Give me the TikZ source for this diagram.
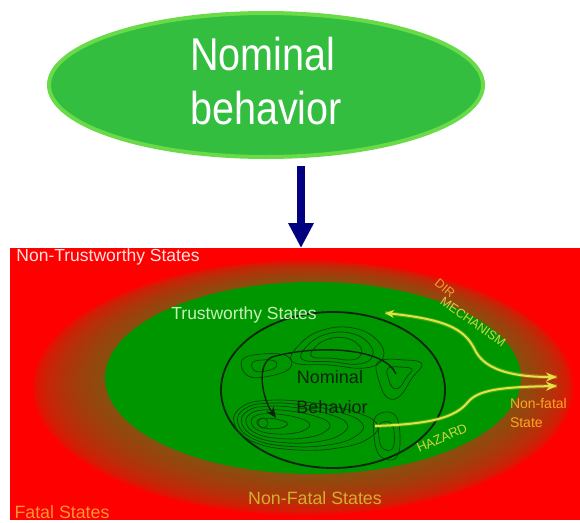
\documentclass[tikz,border=0pt]{standalone}
\usepackage{fontspec}
\setmainfont{Liberation Sans}
\usetikzlibrary{arrows.meta,shapes.geometric}

\definecolor{topgreen}{RGB}{52,190,64}
\definecolor{topedge}{RGB}{105,218,72}
\definecolor{navyarrow}{RGB}{0,0,128}
\definecolor{bgred}{RGB}{255,0,0}
\definecolor{rust}{RGB}{138,78,14}
\definecolor{trustgreen}{RGB}{0,150,0}
\definecolor{contourline}{RGB}{12,66,12}
\definecolor{pathyellow}{RGB}{226,226,70}
\definecolor{ntcolor}{RGB}{255,226,226}
\definecolor{tscolor}{RGB}{200,240,185}
\definecolor{nfscolor}{RGB}{205,178,48}
\definecolor{fatalcolor}{RGB}{255,150,50}
\definecolor{nfcolor}{RGB}{255,165,40}
\definecolor{dircolor}{RGB}{232,165,50}
\definecolor{mechcolor}{RGB}{208,212,72}
\definecolor{nomcolor}{RGB}{12,36,12}

\newcommand\setfs[1]{\fontsize{#1}{#1}\selectfont}

\tikzset{
  lbl/.style={inner sep=0pt, outer sep=0pt},
  contour/.style={draw=contourline, line width=0.7pt},
  yellowpath/.style={draw=pathyellow, line width=2pt},
  yellowtip/.style={-{Stealth[length=11pt,width=9pt]}},
  yellowglow/.style={draw=pathyellow, line width=4pt, opacity=0.25},
}

\begin{document}
\begin{tikzpicture}[x=1pt,y=-1pt]
\useasboundingbox (0,0) rectangle (580,522);
\fill[white] (0,0) rectangle (580,522);

% top bubble
\node[ellipse, draw=topedge, line width=4pt, fill=topgreen,
      minimum width=434pt, minimum height=144pt, inner sep=0pt] (nominal) at (266,85) {};
\node[lbl, text=white, align=left] (nomtext) at (266,88)
  {\scalebox{0.86}[1]{\setfs{46}\begin{tabular}{@{}l@{}}Nominal\\[7pt]behavior\end{tabular}}};

% arrow down into the state space
\coordinate (arrtop) at (301,166);
\coordinate (arrbot) at (301,248);
\draw[navyarrow, line width=8pt, -{Triangle[length=25pt,width=24pt]}] (arrtop) -- (arrbot);

% state space: red field
\fill[bgred] (10,248) rectangle (580,520);

% non-fatal band: stacked ellipses going from red (outside) to rust (inside)
\foreach \i [evaluate=\i as \pct using {100*(\i/32)^0.5},
             evaluate=\i as \cx using {303+10*\i/32},
             evaluate=\i as \cy using {388-9*\i/32},
             evaluate=\i as \rx using {272-62*\i/32},
             evaluate=\i as \ry using {128-30*\i/32}] in {0,...,32}{
  \fill[rust!\pct!bgred] (\cx,\cy) ellipse [x radius=\rx pt, y radius=\ry pt];
}

% trustworthy region and nominal region
\fill[trustgreen] (313,378) ellipse [x radius=208pt, y radius=96pt];
\draw[nomcolor, line width=1.8pt] (333,390) ellipse [x radius=112pt, y radius=78pt];

% contour lines of the nominal behaviour
\foreach \s in {0.22,0.42,0.6,0.76,0.9,1.03}{
  \draw[contour, shift={(263,423)}, scale=\s] plot[smooth cycle, tension=0.75]
    coordinates {(-28,0) (-20,-16) (5,-22) (45,-20) (85,-12) (110,0) (104,14) (75,24) (30,26) (-10,18)};
}
\foreach \s in {0.55,0.78,1}{
  \draw[contour, shift={(335,350)}, scale=\s] plot[smooth cycle, tension=0.75]
    coordinates {(-42,12) (-35,-6) (-12,-20) (18,-22) (42,-10) (48,8) (30,18) (-5,15)};
}
\foreach \s in {0.55,1}{
  \draw[contour, shift={(400,376)}, scale=\s] plot[smooth cycle, tension=0.7]
    coordinates {(-22,-14) (5,-16) (22,-12) (12,2) (0,20) (-12,22) (-20,8)};
}
\foreach \s in {0.5,1}{
  \draw[contour, shift={(262,366)}, scale=\s] plot[smooth cycle, tension=0.7]
    coordinates {(-20,-6) (0,-12) (25,-10) (28,2) (8,10) (-14,10)};
}
\foreach \s in {0.6,1}{
  \draw[contour, shift={(386,436)}, scale=\s] plot[smooth cycle, tension=0.7]
    coordinates {(-10,-20) (8,-22) (14,0) (10,22) (-6,20) (-12,0)};
}
\draw[contour] (263,423) circle (5pt);

% trajectory loop
\coordinate (loopstart) at (396,374);
\coordinate (loopend) at (276,418);
\draw[nomcolor, line width=1.4pt, -{Stealth[length=11pt,width=9pt]}]
  (loopstart) .. controls (385,348) and (318,344) .. (272,357)
  .. controls (256,364) and (262,398) .. (loopend);

% hazard and recovery paths
\coordinate (nfstate) at (557,377);
\coordinate (trustpt) at (385,313);
\coordinate (hazstart) at (375,426);
\coordinate (nfstate2) at (557,386);
\path[yellowglow] (nfstate) .. controls (515,377) and (487,371) .. (476,352)
  .. controls (466,331) and (452,320) .. (trustpt);
\path[yellowglow] (hazstart) .. controls (430,424) and (455,418) .. (468,402)
  .. controls (478,390) and (500,387) .. (nfstate2);
\draw[yellowpath, {Stealth[length=11pt,width=9pt]}-{Stealth[length=9pt,width=8pt]}]
  (nfstate) .. controls (515,377) and (487,371) .. (476,352)
  .. controls (466,331) and (452,320) .. (trustpt);
\draw[yellowpath, yellowtip] (hazstart) .. controls (430,424) and (455,418) .. (468,402)
  .. controls (478,390) and (500,387) .. (nfstate2);

% labels
\node[lbl, text=ntcolor] (ntlabel) at (108,257) {\setfs{17.5}Non-Trustworthy States};
\node[lbl, text=tscolor] (tslabel) at (244,315) {\setfs{17.5}Trustworthy States};
\node[lbl, text=nomcolor] (nomlabel) at (330,377) {\setfs{18}Nominal};
\node[lbl, text=nomcolor] (behlabel) at (332,407) {\setfs{18}Behavior};
\node[lbl, text=nfscolor] (nfslabel) at (315,498) {\setfs{17.8}Non-Fatal States};
\node[lbl, text=fatalcolor] (fatallabel) at (62,512) {\setfs{17.8}Fatal States};
\node[lbl, text=nfcolor, anchor=west] (nflabel) at (510,403) {\setfs{14}Non-fatal};
\node[lbl, text=nfcolor, anchor=west] (stlabel) at (510,423) {\setfs{14}State};
\node[lbl, text=dircolor, rotate=-40] (dirlabel) at (445,288) {\setfs{12.5}DIR};
\node[lbl, text=mechcolor, rotate=-35] (mechlabel) at (473,322) {\setfs{12.5}MECHANISM};
\node[lbl, text=mechcolor, rotate=24] (hazlabel) at (442,438) {\setfs{13}HAZARD};
\end{tikzpicture}
\end{document}
